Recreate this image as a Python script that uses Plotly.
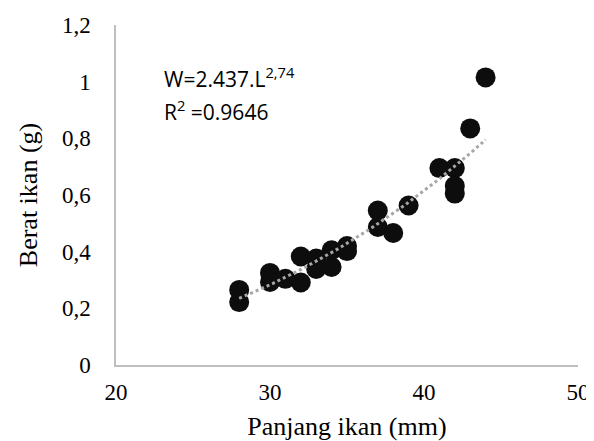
import numpy as np
import plotly.graph_objects as go

# Data
panjang = [28, 28, 30, 30, 31, 32, 32, 33, 33, 34, 34, 35, 35, 37, 37, 38, 39, 41, 42, 42, 42, 43, 44]
berat = [0.265, 0.222, 0.325, 0.293, 0.304, 0.383, 0.291, 0.376, 0.339, 0.405, 0.346, 0.420, 0.402,
         0.545, 0.487, 0.466, 0.563, 0.695, 0.695, 0.632, 0.605, 0.835, 1.015]

y_tickvals = [0, 0.2, 0.4, 0.6, 0.8, 1.0, 1.2]
y_ticktext = ["0", "0,2", "0,4", "0,6", "0,8", "1", "1,2"]
x_tickvals = [20, 30, 40, 50]
x_ticktext = ["20", "30", "40", "50"]

# Power trendline fitted from data
lx = np.log(panjang)
ly = np.log(berat)
b, ln_a = np.polyfit(lx, ly, 1)
xf = np.linspace(min(panjang), max(panjang), 60)
yf = np.exp(ln_a) * xf ** b

fig = go.Figure()
fig.add_trace(go.Scatter(x=panjang, y=berat, mode="markers",
                         marker=dict(size=20, color="#0d0d0d", line=dict(width=0)),
                         showlegend=False, cliponaxis=False))
fig.add_trace(go.Scatter(x=xf, y=yf, mode="lines",
                         line=dict(color="#a6a6a6", width=3, dash="dot"),
                         showlegend=False))

serif = "Liberation Serif, Times New Roman, serif"
# the page body adds an 8px offset, so the figure is 8px smaller and margins shifted
fig.update_layout(
    width=586, height=433,
    margin=dict(l=108, r=16, t=17, b=76, autoexpand=False),
    paper_bgcolor="white", plot_bgcolor="white",
    font=dict(family=serif, size=23, color="black"),
    xaxis=dict(range=[20, 50], tickvals=x_tickvals, ticktext=x_ticktext, automargin=False,
               showgrid=False, zeroline=False, showline=True, linecolor="#bfbfbf", linewidth=1.5,
               ticks="outside", ticklen=6, tickcolor="rgba(0,0,0,0)",
               title=dict(text="Panjang ikan (mm)", font=dict(family=serif, size=26), standoff=12)),
    yaxis=dict(range=[0, 1.2], tickvals=y_tickvals, ticktext=y_ticktext, automargin=False,
               showgrid=False, zeroline=False, showline=True, linecolor="#bfbfbf", linewidth=1.5,
               ticks="outside", ticklen=19, tickcolor="rgba(0,0,0,0)",
               title=dict(text="Berat ikan (g)", font=dict(family=serif, size=26), standoff=17)),
)

sans = "Open Sans, Liberation Sans, sans-serif"
fig.add_annotation(xref="x", yref="y", x=23.0, y=1.013, xanchor="left", yanchor="middle",
                   text="W=2.437.L<sup>2,74</sup>", showarrow=False,
                   font=dict(family=sans, size=21, color="black"))
fig.add_annotation(xref="x", yref="y", x=23.0, y=0.90, xanchor="left", yanchor="middle",
                   text="R<sup>2</sup> =0.9646", showarrow=False,
                   font=dict(family=sans, size=21, color="black"))

fig.write_html("out.html")
